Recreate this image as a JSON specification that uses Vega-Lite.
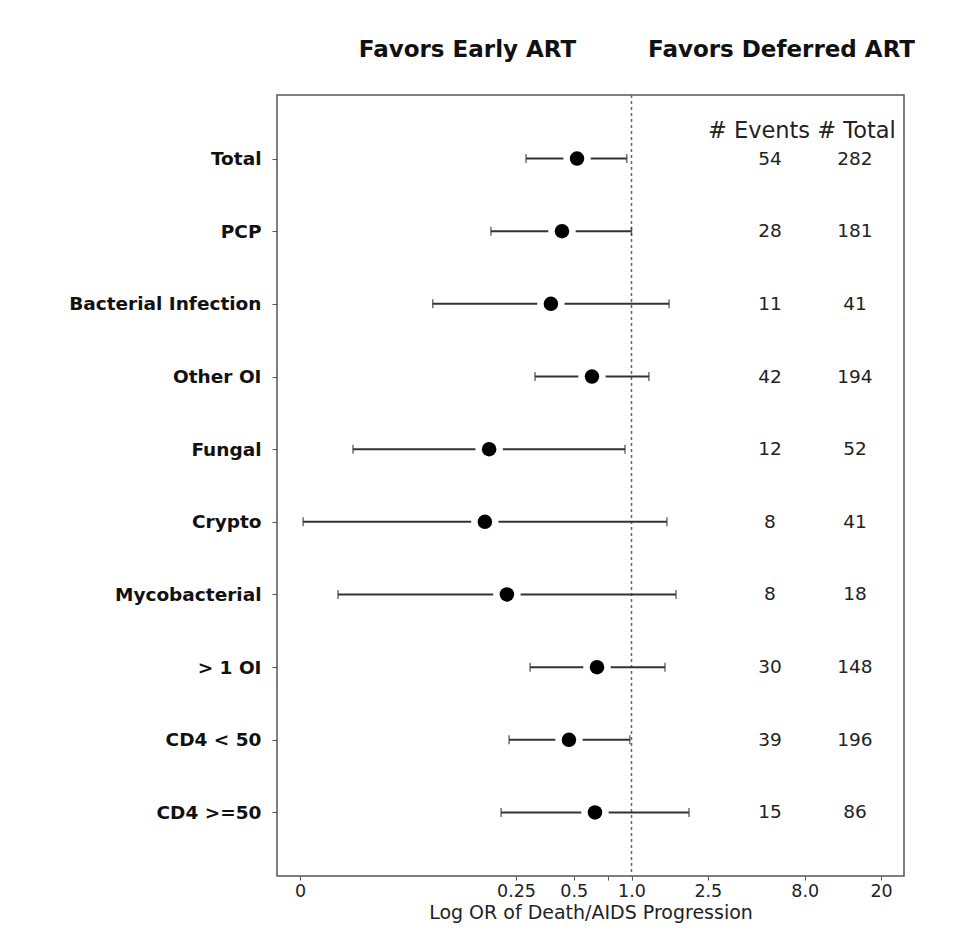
{
  "$schema": "https://vega.github.io/schema/vega-lite/v6.json",
  "width": 627,
  "height": 781,
  "autosize": {"type": "none"},
  "padding": {"left": 277, "top": 95, "right": 62, "bottom": 57},
  "background": "white",
  "config": {
    "font": "DejaVu Sans",
    "view": {"stroke": "#555555", "strokeWidth": 1.5}
  },
  "data": {
    "values": [
      {"label": "Total", "or": 0.52, "lo": 0.282, "hi": 0.945, "events": 54, "total": 282},
      {"label": "PCP", "or": 0.434, "lo": 0.185, "hi": 1.0, "events": 28, "total": 181},
      {"label": "Bacterial Infection", "or": 0.38, "lo": 0.092, "hi": 1.57, "events": 11, "total": 41},
      {"label": "Other OI", "or": 0.622, "lo": 0.314, "hi": 1.233, "events": 42, "total": 194},
      {"label": "Fungal", "or": 0.181, "lo": 0.0353, "hi": 0.925, "events": 12, "total": 52},
      {"label": "Crypto", "or": 0.172, "lo": 0.0194, "hi": 1.53, "events": 8, "total": 41},
      {"label": "Mycobacterial", "or": 0.224, "lo": 0.0295, "hi": 1.706, "events": 8, "total": 18},
      {"label": "> 1 OI", "or": 0.661, "lo": 0.296, "hi": 1.495, "events": 30, "total": 148},
      {"label": "CD4 < 50", "or": 0.472, "lo": 0.23, "hi": 0.98, "events": 39, "total": 196},
      {"label": "CD4 >=50", "or": 0.645, "lo": 0.209, "hi": 1.995, "events": 15, "total": 86}
    ]
  },
  "resolve": {"axis": {"x": "independent"}},
  "layer": [
    {
      "data": {"values": [{"ref": 1}]},
      "mark": {"type": "rule", "strokeDash": [3, 3], "color": "#666666", "strokeWidth": 1.5},
      "encoding": {
        "x": {
          "field": "ref",
          "type": "quantitative",
          "scale": {"type": "log", "domain": [0.01418, 26.35], "nice": false, "zero": false},
          "axis": {
            "orient": "top",
            "values": [0.1388, 6.02],
            "labelExpr": "datum.value < 1 ? 'Favors Early ART' : 'Favors Deferred ART'",
            "domain": false,
            "ticks": false,
            "tickSize": 0,
            "grid": false,
            "labelPadding": 34,
            "labelFontSize": 23,
            "labelFontWeight": "bold",
            "labelColor": "#111111",
            "labelLimit": 500,
            "labelOverlap": false,
            "labelFlush": false,
            "labelBound": false,
            "title": null
          }
        }
      }
    },
    {
      "mark": {"type": "rule", "color": "#333333", "strokeWidth": 2},
      "encoding": {
        "y": {
          "field": "label",
          "type": "nominal",
          "scale": {"type": "point", "domain": ["Total", "PCP", "Bacterial Infection", "Other OI", "Fungal", "Crypto", "Mycobacterial", "> 1 OI", "CD4 < 50", "CD4 >=50"], "padding": 0.874},
          "axis": {
            "title": null,
            "domain": false,
            "tickSize": 5,
            "tickColor": "#555555",
            "labelPadding": 11,
            "labelFontSize": 18.5,
            "labelFontWeight": "bold",
            "labelColor": "#111111",
            "labelLimit": 400
          }
        },
        "x": {
          "field": "lo",
          "type": "quantitative",
          "axis": {
            "orient": "bottom",
            "values": [0.0187, 0.25, 0.5, 0.75, 1, 2.5, 8, 20],
            "format": ".2~f",
            "labelExpr": "datum.value < 0.05 ? '0' : datum.value == 0.75 ? '' : datum.value == 1 ? '1.0' : datum.value == 8 ? '8.0' : datum.label",
            "domain": false,
            "grid": false,
            "tickSize": 4,
            "tickColor": "#555555",
            "labelPadding": 2,
            "labelFontSize": 17.5,
            "labelColor": "#222222",
            "labelOverlap": false,
            "labelFlush": false,
            "title": "Log OR of Death/AIDS Progression",
            "titleFontSize": 19,
            "titleFontWeight": "normal",
            "titleColor": "#222222",
            "titlePadding": 4
          }
        },
        "x2": {"field": "hi"}
      }
    },
    {
      "mark": {"type": "tick", "color": "#333333", "thickness": 1.5, "size": 9, "orient": "vertical"},
      "encoding": {
        "y": {"field": "label", "type": "nominal"},
        "x": {"field": "lo", "type": "quantitative", "axis": null}
      }
    },
    {
      "mark": {"type": "tick", "color": "#333333", "thickness": 1.5, "size": 9, "orient": "vertical"},
      "encoding": {
        "y": {"field": "label", "type": "nominal"},
        "x": {"field": "hi", "type": "quantitative", "axis": null}
      }
    },
    {
      "mark": {"type": "circle", "color": "white", "opacity": 1, "size": 750},
      "encoding": {
        "y": {"field": "label", "type": "nominal"},
        "x": {"field": "or", "type": "quantitative", "axis": null}
      }
    },
    {
      "mark": {"type": "circle", "color": "black", "opacity": 1, "size": 210},
      "encoding": {
        "y": {"field": "label", "type": "nominal"},
        "x": {"field": "or", "type": "quantitative", "axis": null}
      }
    },
    {
      "mark": {"type": "text", "fontSize": 18.5, "color": "#222222", "align": "center", "baseline": "middle"},
      "encoding": {
        "y": {"field": "label", "type": "nominal"},
        "x": {"datum": 5.27, "type": "quantitative", "axis": null},
        "text": {"field": "events", "type": "quantitative"}
      }
    },
    {
      "mark": {"type": "text", "fontSize": 18.5, "color": "#222222", "align": "center", "baseline": "middle"},
      "encoding": {
        "y": {"field": "label", "type": "nominal"},
        "x": {"datum": 14.63, "type": "quantitative", "axis": null},
        "text": {"field": "total", "type": "quantitative"}
      }
    },
    {
      "data": {"values": [{"header": "# Events # Total", "label": "Total"}]},
      "mark": {"type": "text", "fontSize": 22.5, "color": "#222222", "align": "center", "baseline": "middle", "dy": -28},
      "encoding": {
        "y": {"field": "label", "type": "nominal"},
        "x": {"datum": 7.73, "type": "quantitative", "axis": null},
        "text": {"field": "header", "type": "nominal"}
      }
    }
  ]
}
